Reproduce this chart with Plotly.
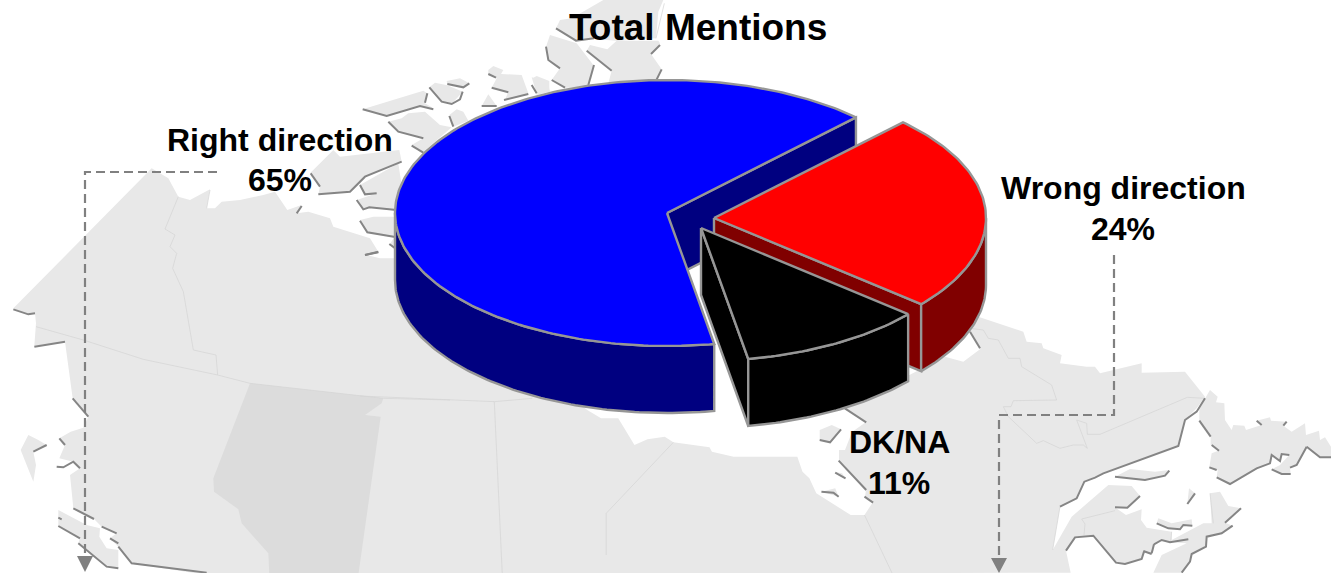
import math
import plotly.graph_objects as go

# ---------- chart data ----------
CATEGORIES = ["Right direction", "Wrong direction", "DK/NA"]
VALUES = [65, 24, 11]
TOP_COLORS = ["#0000FF", "#FF0000", "#000000"]
SIDE_COLORS = ["#000080", "#800000", "#000000"]
TITLE = "Total Mentions"

# ---------- pie projection (pixel-like data axes) ----------
W, H = 1331, 573
RX, RY, DEPTH = 272, 133, 67
START = 44.0  # clockwise from 12 o'clock, where "Wrong direction" begins
CENTERS = {"Right direction": (667, 213), "Wrong direction": (714, 218), "DK/NA": (701, 228)}
OUTLINE = "#969696"
LABEL_POS = {"Right direction": (280, 140, 180), "Wrong direction": (1123, 188, 229), "DK/NA": (899, 442, 483)}


def crop(x0, y0, pts, sx=3.0, sy=3.0):
    return [(x0 + a / sx, y0 + b / sy) for a, b in pts]


Z2 = lambda p: crop(0, 150, p)
Z3 = lambda p: crop(850, 300, p)
Z4 = lambda p: crop(340, 0, p)
Z5 = lambda p: crop(360, 390, p, sx=2.904)
Z6 = lambda p: crop(520, 0, p)
Z7 = lambda p: crop(1040, 380, p)

# ---------- decorative map ----------
MAINLAND = (
    Z2([(40, 475), (455, 55), (505, 85), (535, 140), (570, 150), (630, 118), (620, 175), (645, 175), (665, 155),
        (720, 150), (790, 135), (825, 125), (862, 180), (905, 165), (890, 190), (925, 185), (990, 205), (1000, 230),
        (1110, 265), (1135, 305), (1100, 315), (1140, 325), (1190, 325)])
    + Z5([(660, 60), (700, 85), (750, 85), (797, 165), (835, 148), (885, 140), (910, 157), (1015, 172), (1022, 185),
          (1085, 200), (1270, 200), (1285, 245), (1305, 265), (1325, 310), (1425, 375), (1465, 375)])
    + [(873, 502), (865, 497), (866, 490), (839, 461), (839, 450), (845, 450), (852, 432), (866, 422), (845, 408)]
    + Z3([(285, 170), (340, 185), (390, 148), (360, 92), (385, 50), (520, 95), (530, 125), (575, 130), (580, 145),
          (635, 165), (630, 190), (710, 200), (735, 200), (750, 220), (875, 190), (875, 218), (1005, 215), (1065, 290),
          (1040, 325), (1005, 360), (985, 437), (755, 520), (705, 545), (680, 598), (630, 622), (608, 750)])
    + Z7([(95, 410), (205, 315), (275, 318), (300, 348), (262, 383), (225, 382), (258, 405), (305, 388), (303, 420),
          (320, 443), (395, 455), (395, 480), (490, 430), (515, 430), (510, 340), (540, 335), (565, 378), (603, 385),
          (555, 428), (578, 437), (545, 460), (500, 470), (498, 500), (455, 522), (450, 545), (425, 578), (340, 578),
          (365, 525), (440, 490), (390, 487), (365, 480), (342, 493), (335, 522), (310, 513), (305, 537), (255, 552),
          (228, 548), (160, 467), (105, 472), (78, 512), (92, 578)])
    + Z2([(620, 1275), (395, 1240), (355, 1190), (330, 1165), (350, 1150), (305, 1130), (282, 1107), (220, 1075),
          (210, 975), (240, 955), (220, 935), (178, 925), (195, 885), (178, 865), (212, 845), (250, 833), (265, 800),
          (218, 745), (195, 575), (103, 587), (108, 520), (105, 490), (85, 495)])
)
ISLANDS = [
    Z2([(175, 1080), (260, 1125), (300, 1135), (298, 1160), (320, 1195), (355, 1200), (355, 1255), (320, 1250),
        (235, 1180), (240, 1165), (175, 1128)]),
    Z2([(62, 900), (85, 855), (115, 870), (140, 885), (100, 905), (108, 945), (100, 995), (78, 940)]),
    Z2([(930, 70), (1000, 0), (1020, 20), (1198, 0), (1205, 35), (1095, 80), (1050, 125), (955, 133), (960, 110)]),
    Z4([(68, 328), (250, 272), (262, 280), (255, 310), (280, 325), (240, 318), (140, 348)]),
    Z4([(268, 262), (285, 248), (322, 256), (368, 275), (335, 312), (305, 305)]),
    Z4([(320, 243), (360, 235), (388, 250), (375, 262), (322, 252)]),
    Z4([(445, 210), (460, 198), (490, 210), (483, 222), (545, 225), (565, 280), (495, 300), (505, 275), (455, 263),
        (470, 235), (445, 225)]),
    Z4([(328, 345), (350, 328), (370, 335), (385, 362), (340, 380)]),
    Z4([(425, 318), (445, 283), (470, 318)]),
    Z4([(575, 232), (625, 245), (630, 275), (590, 282)]),
    Z4([(145, 365), (185, 355), (205, 340), (255, 335), (300, 375), (335, 382), (245, 460), (215, 435), (250, 415),
        (175, 395)]),
    Z4([(60, 555), (175, 490), (190, 590), (75, 583)]),
    Z4([(50, 600), (95, 585), (190, 580), (190, 635), (85, 622), (68, 630)]),
    Z4([(60, 660), (100, 650), (190, 650), (190, 718), (80, 697)]),
    Z4([(148, 735), (170, 700), (170, 748)]),
    Z6([(108, 85), (120, 60), (155, 55), (250, 0), (430, 0), (415, 35), (408, 115), (290, 122), (260, 120), (220, 115),
        (168, 122)]),
    Z6([(200, 152), (210, 135), (262, 148), (290, 122), (415, 122), (420, 130), (393, 162), (425, 208), (410, 250),
        (265, 250), (275, 212)]),
    Z6([(78, 140), (90, 105), (170, 130), (220, 195), (205, 262), (135, 263), (95, 240), (120, 205), (85, 180)]),
    Z6([(37, 235), (50, 228), (88, 243), (88, 275), (50, 285)]),
    Z5([(1335, 120), (1370, 105), (1397, 118), (1365, 157), (1335, 150)]),
    Z5([(1340, 305), (1380, 295), (1390, 320)]),
    Z5([(1378, 245), (1400, 250), (1410, 265)]),
    Z7([(478, 85), (510, 30), (533, 50), (528, 67), (553, 70), (555, 120), (575, 150), (580, 135), (613, 137),
        (618, 150), (665, 135), (650, 122), (690, 112), (693, 122), (740, 125), (730, 137), (755, 155), (795, 130),
        (798, 165), (837, 152), (840, 180), (855, 172), (873, 200), (873, 232), (840, 232), (800, 200), (770, 255),
        (750, 263), (752, 282), (725, 282), (695, 268), (720, 255), (748, 225), (725, 222), (720, 243), (695, 225),
        (690, 250), (650, 265), (570, 312), (530, 292), (533, 270), (508, 262), (515, 220), (535, 212), (512, 195),
        (512, 170), (478, 122)]),
    Z7([(225, 290), (270, 267), (345, 275), (388, 270), (375, 287), (315, 300)]),
    Z7([(350, 430), (355, 415), (395, 430), (455, 418), (457, 437), (430, 435), (420, 448), (385, 445)]),
    Z7([(442, 372), (447, 325), (465, 340)]),
]
ALBERTA = Z2([(750, 700), (1150, 745), (1145, 760), (1095, 795), (1142, 800), (1075, 1275), (808, 1275), (805, 1210),
              (725, 1120), (715, 1078), (642, 1025), (640, 985)])
THIN_BORDERS = [
    Z2([(535, 140), (495, 237), (525, 255), (510, 290), (530, 310), (518, 355), (550, 425), (580, 600), (648, 615),
        (653, 675)]),
    Z2([(108, 530), (250, 570), (430, 628), (653, 675), (750, 700), (1150, 745), (1350, 750)]),
    Z5([(0, 18), (390, 35), (500, 25)]),
    Z5([(390, 35), (413, 549)]),
    Z5([(910, 157), (715, 370), (715, 495)]),
    Z5([(1465, 375), (1545, 549)]),
    Z3([(360, 85), (400, 90), (415, 115), (445, 120), (475, 175), (510, 175), (515, 200), (605, 255), (620, 300),
        (490, 302), (483, 320), (460, 320), (475, 350), (560, 430), (580, 422), (630, 445), (670, 435), (700, 435),
        (712, 445), (680, 360), (710, 370), (712, 403), (750, 403), (1012, 292), (1065, 295)]),
    Z7([(60, 380), (38, 510)]),
    Z7([(225, 392), (125, 417), (135, 432), (132, 465)]),
    Z7([(395, 455), (392, 487)]),
    Z7([(510, 340), (520, 430)]),
    Z2([(620, 175), (630, 120)]),
    Z6([(433, 10), (408, 115)]),
]
COAST_SHADOWS = [
    Z2([(40, 478), (85, 493), (105, 490)]), Z2([(103, 590), (195, 575)]), Z2([(218, 745), (265, 800)]),
    Z2([(178, 865), (195, 885)]), Z2([(100, 905), (140, 885)]), Z2([(170, 950), (190, 952), (220, 935), (240, 955)]),
    Z2([(220, 1075), (282, 1107)]), Z2([(175, 1103), (185, 1108)]), Z2([(175, 1128), (240, 1165)]),
    Z2([(235, 1180), (320, 1250), (355, 1255)]), Z2([(305, 1130), (350, 1150)]), Z2([(330, 1165), (355, 1180)]),
    Z2([(355, 1190), (395, 1240), (620, 1268)]), Z2([(890, 190), (905, 168)]), Z2([(955, 133), (1050, 125), (1095, 80), (1205, 35)]),
    Z2([(932, 70), (960, 110)]), Z2([(1095, 315), (1135, 307)]),
    Z4([(68, 328), (140, 348), (240, 318), (280, 328)]), Z4([(262, 280), (255, 308)]),
    Z4([(268, 262), (305, 305), (335, 312), (360, 298), (368, 275)]), Z4([(322, 252), (370, 262), (388, 250)]),
    Z4([(445, 222), (468, 233)]), Z4([(455, 263), (505, 277)]), Z4([(425, 318), (470, 318)]),
    Z4([(492, 300), (565, 282)]), Z4([(575, 255), (590, 280)]), Z4([(328, 348), (340, 380)]),
    Z4([(145, 365), (175, 395), (250, 415)]), Z4([(215, 437), (250, 458)]),
    Z4([(60, 555), (75, 583), (110, 580)]), Z4([(50, 600), (70, 628), (88, 622), (170, 630)]),
    Z4([(60, 662), (82, 697), (170, 712)]), Z4([(148, 732), (170, 748)]), Z4([(75, 765), (115, 755)]),
    Z6([(108, 85), (168, 122), (222, 115)]), Z6([(200, 152), (275, 212)]), Z6([(78, 140), (85, 180), (120, 205)]),
    Z6([(95, 240), (135, 263)]), Z6([(222, 195), (205, 255)]), Z6([(420, 135), (393, 162)]), Z6([(425, 208), (410, 238)]),
    Z3([(360, 95), (390, 145)]), Z5([(1408, 55), (1470, 97)]), Z5([(1390, 212), (1470, 300)]), Z5([(1465, 320), (1490, 338)]),
    Z5([(1335, 150), (1365, 157), (1397, 118)]), Z5([(1340, 305), (1375, 308), (1390, 320)]), Z5([(1380, 248), (1410, 265)]),
    Z7([(495, 55), (470, 95), (435, 120), (415, 198), (190, 280), (165, 293), (133, 305), (110, 355), (60, 380)]),
    Z7([(478, 122), (512, 170)]), Z7([(515, 195), (537, 212)]), Z7([(508, 262), (530, 270)]),
    Z7([(530, 292), (570, 312), (650, 265), (690, 250), (695, 225), (720, 243), (725, 222), (748, 225)]),
    Z7([(800, 200), (770, 255), (750, 263)]), Z7([(800, 200), (840, 232), (873, 232)]),
    Z7([(695, 268), (725, 282), (752, 282)]), Z7([(650, 122), (665, 135)]), Z7([(740, 125), (730, 137)]),
    Z7([(225, 290), (315, 300), (375, 287), (388, 272)]), Z7([(350, 430), (385, 445), (420, 448), (430, 435), (457, 437)]),
    Z7([(442, 372), (465, 340)]), Z7([(603, 385), (555, 428)]),
    Z7([(578, 437), (545, 460), (500, 470), (498, 500), (455, 522), (450, 545), (425, 578)]),
    Z7([(300, 348), (262, 383), (225, 382)]), Z7([(342, 493), (365, 480), (390, 487), (445, 478)]),
    Z7([(335, 522), (310, 513)]), Z7([(78, 512), (105, 472), (160, 467), (228, 548), (255, 552), (305, 537), (312, 515)]),
    Z7([(342, 493), (335, 520)]),
]
CONNECTORS = [[(217, 172), (85, 172), (85, 556)], [(1114, 255), (1114, 415), (999, 415), (999, 558)]]
ARROW_HEADS = [[(77, 556), (93, 556), (85, 572)], [(991, 558), (1007, 558), (999, 573)]]


def joined(polys):
    xs, ys = [], []
    for poly in polys:
        xs += [p[0] for p in poly] + [None]
        ys += [p[1] for p in poly] + [None]
    return xs, ys


def filled(polys, color):
    xs, ys = joined([p + [p[0]] for p in polys])
    return go.Scatter(x=xs, y=ys, mode="lines", fill="toself", fillcolor=color, line=dict(width=0, color=color),
                      hoverinfo="skip", showlegend=False)


def lines(polys, color, width, dash=None):
    xs, ys = joined(polys)
    return go.Scatter(x=xs, y=ys, mode="lines", line=dict(color=color, width=width, dash=dash),
                      hoverinfo="skip", showlegend=False)


# ---------- pie slices computed from VALUES ----------
def rim_point(center, theta, drop=0.0):
    rad = math.radians(theta)
    return (center[0] + RX * math.sin(rad), center[1] - RY * math.cos(rad) + drop)


def arc(center, a, b, drop=0.0):
    n = max(2, int(abs(b - a)) + 1)
    return [rim_point(center, a + (b - a) * i / n, drop) for i in range(n + 1)]


def poly_trace(points, color, name):
    pts = points + [points[0]]
    return go.Scatter(x=[p[0] for p in pts], y=[p[1] for p in pts], mode="lines", fill="toself", fillcolor=color,
                      line=dict(color=OUTLINE, width=2.4), name=name, hoverinfo="name", showlegend=False)


total = sum(VALUES)
sweep = {c: v / total * 360 for c, v in zip(CATEGORIES, VALUES)}
a_wrong = (START, START + sweep["Wrong direction"])
a_dk = (a_wrong[1], a_wrong[1] + sweep["DK/NA"])
a_right = (a_dk[1], a_dk[1] + sweep["Right direction"])
ANGLES = {"Right direction": a_right, "Wrong direction": a_wrong, "DK/NA": a_dk}

traces = [
    filled([MAINLAND] + ISLANDS, "#E8E8E8"),
    filled([ALBERTA], "#DCDCDC"),
    lines(THIN_BORDERS, "#D4D4D4", 0.7),
    lines(COAST_SHADOWS, "#858585", 2),
    lines(CONNECTORS, "#808080", 2.2, "9px,5px"),
    filled(ARROW_HEADS, "#808080"),
]

for cat, top, side in zip(CATEGORIES, TOP_COLORS, SIDE_COLORS):
    c = CENTERS[cat]
    a, b = ANGLES[cat]
    # cut face that looks toward the viewer
    end = rim_point(c, b)
    end_low = rim_point(c, b, DEPTH)
    traces.append(poly_trace([c, end, end_low, (c[0], c[1] + DEPTH)], side, cat))
    # outer wall: only the part of the rim on the near half of the ellipse
    lo, hi = max(a, 90), min(b, 270)
    if hi > lo:
        traces.append(poly_trace(arc(c, lo, hi) + arc(c, hi, lo, DEPTH), side, cat))
    # top face
    traces.append(poly_trace([c] + arc(c, a, b), top, cat))

annotations = [dict(text=f"<b>{TITLE}</b>", x=698, y=27, xref="x", yref="y", showarrow=False,
                    font=dict(family="Liberation Sans", size=37, color="#000000"))]
for cat, val in zip(CATEGORIES, VALUES):
    lx, ly1, ly2 = LABEL_POS[cat]
    annotations.append(dict(text=f"<b>{cat}</b>", x=lx, y=ly1, xref="x", yref="y", showarrow=False,
                            font=dict(family="Liberation Sans", size=32, color="#000000")))
    annotations.append(dict(text=f"<b>{val}%</b>", x=lx, y=ly2, xref="x", yref="y", showarrow=False,
                            font=dict(family="Liberation Sans", size=32, color="#000000")))

fig = go.Figure(traces)
fig.update_layout(
    width=W, height=H, margin=dict(l=0, r=0, t=0, b=0), paper_bgcolor="#FFFFFF", plot_bgcolor="#FFFFFF",
    xaxis=dict(range=[0, W], visible=False, fixedrange=True),
    yaxis=dict(range=[H, 0], visible=False, fixedrange=True),
    annotations=annotations, showlegend=False,
)
fig.write_html("out.html", config={"displayModeBar": False},
               post_script="document.body.style.margin='0';document.documentElement.style.overflow='hidden';")
